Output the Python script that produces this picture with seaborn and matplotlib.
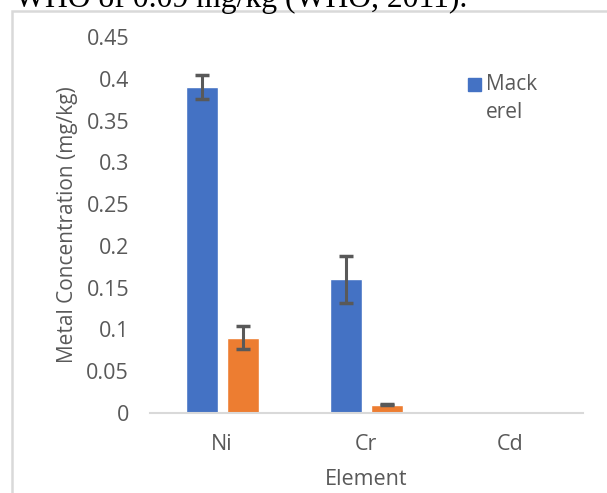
import pandas as pd
import numpy as np
import matplotlib.pyplot as plt
import seaborn as sns
from matplotlib.patches import Rectangle

elements = ["Ni", "Cr", "Cd"]
series = ["Mack\nerel", "Series 2"]
mackerel = [0.39, 0.16, 0.0]
series2 = [0.09, 0.01, 0.0]
mackerel_err = [0.014, 0.028, 0.0]
series2_err = [0.014, 0.001, 0.0]
yticks = [0, 0.05, 0.1, 0.15, 0.2, 0.25, 0.3, 0.35, 0.4, 0.45]
ytick_labels = ["0", "0.05", "0.1", "0.15", "0.2", "0.25", "0.3", "0.35", "0.4", "0.45"]

df = pd.DataFrame({
    "Element": elements * 2,
    "Series": [series[0]] * 3 + [series[1]] * 3,
    "Value": mackerel + series2,
    "Err": mackerel_err + series2_err,
})

sns.set_style("white")
plt.rcParams["font.family"] = ["Open Sans", "DejaVu Sans"]
gray = "#595959"
colors = ["#4472C4", "#ED7D31"]

fig = plt.figure(figsize=(6.07, 4.93), dpi=100)
ax = fig.add_axes([0.247, 0.1623, 0.713, 0.7627])

sns.barplot(data=df, x="Element", y="Value", hue="Series",
            palette=colors, saturation=1, width=0.569, gap=0.22,
            errorbar=None, ax=ax, legend=False)

# error bars placed on the bars seaborn drew
for bar, err in zip(ax.patches, df["Err"]):
    if bar.get_height() == 0 and err == 0:
        continue
    ax.errorbar(bar.get_x() + bar.get_width() / 2, bar.get_height(), yerr=err,
                fmt="none", ecolor=gray, elinewidth=2.2, capsize=5, capthick=2.5)

ax.set_ylim(0, 0.45)
ax.set_xlim(-0.5, 2.5)
ax.set_yticks(yticks)
ax.set_yticklabels(ytick_labels)
ax.tick_params(axis="both", length=0, colors=gray, labelsize=15.5)
ax.tick_params(axis="y", pad=15)
ax.tick_params(axis="x", pad=15)
for s in ["top", "right", "left"]:
    ax.spines[s].set_visible(False)
ax.spines["bottom"].set_color("#d9d9d9")
ax.spines["bottom"].set_linewidth(1.5)

ax.set_xlabel("Element", color=gray, fontsize=15.5, labelpad=10)
ax.set_ylabel("Metal Concentration (mg/kg)", color=gray, fontsize=15, labelpad=6)

# legend: square beside the first line of the wrapped label
fig.add_artist(Rectangle((468 / 607, 1 - 91 / 493), 13 / 607, 13 / 493,
                         transform=fig.transFigure, color=colors[0]))
fig.text(486 / 607, 1 - 74 / 493, series[0], va="top", ha="left",
         fontsize=15, color=gray, linespacing=1.45)

# chart frame and the document text above it
fig.add_artist(Rectangle((12 / 607, -0.1), 1.2, 1 - 11 / 493 + 0.1, transform=fig.transFigure,
                         fill=False, edgecolor="#d9d9d9", linewidth=1.8))
fig.text(15 / 607, 1 - 7 / 493, "WHO of 0.09 mg/kg (WHO, 2011).", va="baseline",
         fontsize=22.8, family="Liberation Serif", color="black")

fig.savefig("out.png", dpi=100)
